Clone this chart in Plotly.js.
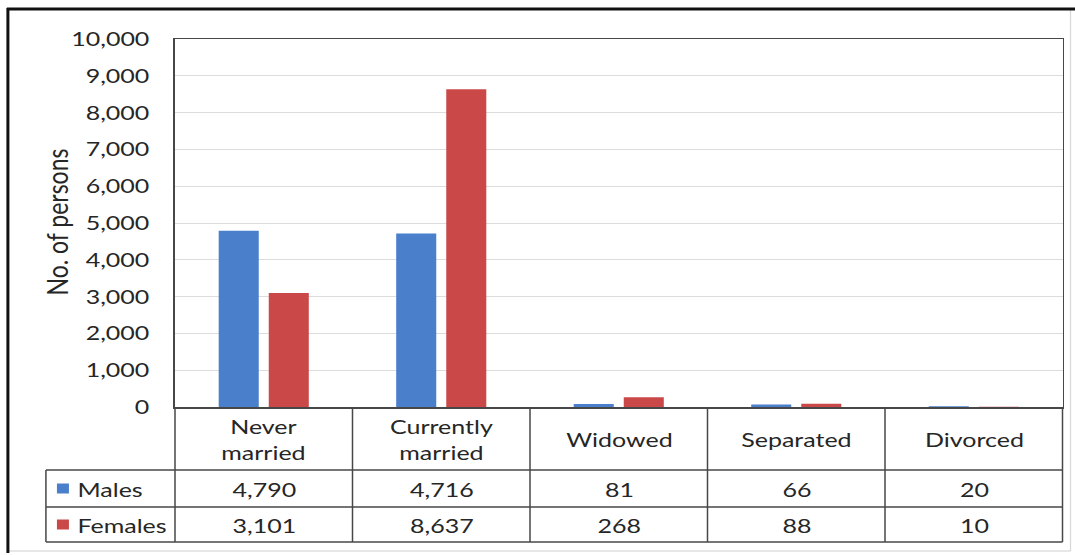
<!DOCTYPE html>
<html>
<head>
<meta charset="utf-8">
<script src="https://cdn.plot.ly/plotly-3.0.1.min.js"></script>
<style>
html,body{margin:0;padding:0;background:#fff;overflow:hidden;}
#wrap{width:1075px;height:555px;overflow:hidden;}
#chart{transform-origin:0 0;}
</style>
</head>
<body>
<div id="wrap"><div id="chart"></div></div>
<script>
const categories = ["Never<br>married", "Currently<br>married", "Widowed", "Separated", "Divorced"];
const seriesNames = ["Males", "Females"];
const males = [4790, 4716, 81, 66, 20];
const females = [3101, 8637, 268, 88, 10];
const yTicks = [0, 1000, 2000, 3000, 4000, 5000, 6000, 7000, 8000, 9000, 10000];

// The reference picture is horizontally stretched; render narrower and stretch.
const S = 1.25;
const W = 1075, H = 555;
const L = 175, R = 1062, T = 39, B = 407;
const PW = R - L, PH = B - T;
const X = px => (px - L) / PW;
const Y = py => (B - py) / PH;

const FONT = "Lato, 'Open Sans', sans-serif";
const TXT = "#262626";
const blue = "#4A7FCB", red = "#CA4848";
const lineCol = "#474747";

const traces = [
  {type: "bar", name: seriesNames[0], x: categories, y: males, marker: {color: blue}, showlegend: false, hoverinfo: "y"},
  {type: "bar", name: seriesNames[1], x: categories, y: females, marker: {color: red}, showlegend: false, hoverinfo: "y"}
];

const shapes = [];
const annotations = [];
function hline(y, x0, x1, w, c) {
  shapes.push({type: "line", xref: "paper", yref: "paper", x0: X(x0), x1: X(x1), y0: Y(y), y1: Y(y), line: {color: c || lineCol, width: w || 1.5}});
}
function vline(x, y0, y1, w, c) {
  shapes.push({type: "line", xref: "paper", yref: "paper", x0: X(x), x1: X(x), y0: Y(y0), y1: Y(y1), line: {color: c || lineCol, width: w || 1.5}});
}
// outer frame: dark top/left, faint right/bottom
hline(551, 8, 1070, 1, "#cfcfcf");
vline(1070, 9, 551, 1, "#d8d8d8");
hline(9, 7, 1075, 3, "#111111");
vline(8, 8, 553, 2.4, "#111111");

const rowTop = 470, rowMid = 507, rowBot = 542, legL = 46;
const n = categories.length;
const colW = PW / n;
// table lines
hline(rowTop, legL, R);
hline(rowMid, legL, R);
hline(rowBot, legL, R);
vline(legL, rowTop, rowBot, 1.2);
for (let i = 0; i <= n; i++) vline(L + i * colW, B, rowBot, 1.2);

// category labels
categories.forEach((c, i) => {
  annotations.push({xref: "paper", yref: "paper", x: X(L + (i + 0.5) * colW), y: Y((B + rowTop) / 2), text: c, showarrow: false, font: {family: FONT, size: 20, color: TXT}, xanchor: "center", yanchor: "middle", align: "center"});
});
// data rows
const rows = [[males, blue, seriesNames[0], (rowTop + rowMid) / 2], [females, red, seriesNames[1], (rowMid + rowBot) / 2]];
rows.forEach(([vals, col, name, yc]) => {
  vals.forEach((v, i) => {
    annotations.push({xref: "paper", yref: "paper", x: X(L + (i + 0.5) * colW), y: Y(yc), text: v.toLocaleString("en-US"), showarrow: false, font: {family: FONT, size: 20, color: TXT}, xanchor: "center", yanchor: "middle"});
  });
  shapes.push({type: "rect", xref: "paper", yref: "paper", x0: X(57), x1: X(69), y0: Y(yc - 5), y1: Y(yc + 5), fillcolor: col, line: {width: 0}});
  annotations.push({xref: "paper", yref: "paper", x: X(75), y: Y(yc), text: name, showarrow: false, font: {family: FONT, size: 20, color: TXT}, xanchor: "left", yanchor: "middle"});
});
// y axis title
annotations.push({xref: "paper", yref: "paper", x: X(57), y: Y(222), text: "No. of persons", textangle: -90, showarrow: false, font: {family: FONT, size: 23, color: TXT}, xanchor: "center", yanchor: "middle"});

const layout = {
  width: W / S, height: H,
  margin: {l: L / S, r: (W - R) / S, t: T, b: H - B, pad: 0},
  paper_bgcolor: "#fff", plot_bgcolor: "#fff",
  barmode: "group", bargap: 0.436, bargroupgap: 0.2,
  xaxis: {type: "category", showticklabels: false, ticks: "", showgrid: false, zeroline: false, showline: true, mirror: true, linecolor: lineCol, linewidth: 1.5, fixedrange: true},
  yaxis: {range: [0, 10000], tickvals: yTicks, ticktext: yTicks.map(v => v.toLocaleString("en-US")), showgrid: true, gridcolor: "#dcdcdc", gridwidth: 1, zeroline: false, showline: true, mirror: true, linecolor: lineCol, linewidth: 1.5, ticks: "", ticklabelstandoff: 15, tickfont: {family: FONT, size: 20, color: TXT}, fixedrange: true},
  shapes: shapes,
  annotations: annotations,
  showlegend: false
};

const el = document.getElementById("chart");
el.style.transform = "scaleX(" + S + ")";
Plotly.newPlot(el, traces, layout, {displayModeBar: false, staticPlot: true});
</script>
</body>
</html>
